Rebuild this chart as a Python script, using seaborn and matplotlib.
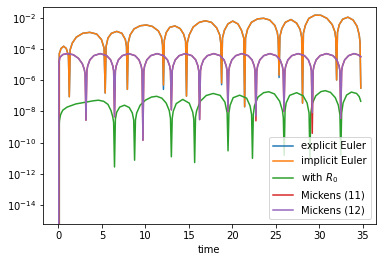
import numpy as np
import pandas as pd
import matplotlib
matplotlib.use('Agg')
import matplotlib.pyplot as plt
import seaborn as sns

NEG = -np.inf  # error is exactly zero at t = 0

# --- Euler schemes (values are log10 of the error)
t_euler = [
    0.0, 0.1, 0.3, 0.6, 0.9, 1.15, 1.25,
    1.35, 1.6, 2.05, 2.8, 3.6, 4.4, 4.95, 5.25, 5.38,
    5.48, 5.7, 6.1, 6.7, 7.3, 7.7, 7.83, 7.93,
    8.03, 8.25, 8.7, 9.4, 10.1, 10.8, 11.5, 11.85, 11.98, 12.08,
    12.18, 12.4, 12.8, 13.4, 14.0, 14.4, 14.63, 14.73,
    14.83, 15.05, 15.5, 16.2, 16.9, 17.6, 18.2, 18.55, 18.67, 18.77,
    18.87, 19.1, 19.5, 20.05, 20.65, 21.05, 21.32, 21.42,
    21.52, 21.75, 22.2, 22.9, 23.6, 24.3, 24.9, 25.18, 25.28, 25.38,
    25.48, 25.7, 26.1, 26.75, 27.4, 27.8, 27.98, 28.08,
    28.18, 28.4, 28.8, 29.5, 30.2, 30.9, 31.5, 31.8, 31.9, 32.0,
    32.1, 32.3, 32.7, 33.3, 33.9, 34.35, 34.6, 34.7, 34.78,
]
implicit_euler_log = [
    NEG, -4.3, -3.97, -3.83, -3.97, -4.43, -7.06,
    -4.05, -3.62, -3.25, -3.0, -2.94, -3.05, -3.4, -3.95, -6.82,
    -3.85, -3.3, -3.0, -2.88, -3.0, -3.4, -3.85, -6.59,
    -3.6, -3.1, -2.72, -2.52, -2.47, -2.56, -2.85, -3.25, -3.75, -6.31,
    -3.45, -2.95, -2.62, -2.53, -2.7, -3.05, -3.5, -7.02,
    -3.6, -3.1, -2.6, -2.3, -2.2, -2.3, -2.65, -3.1, -3.6, -6.18,
    -3.3, -2.8, -2.4, -2.22, -2.4, -2.8, -3.3, -7.7,
    -3.3, -2.75, -2.3, -2.08, -2.04, -2.15, -2.5, -2.95, -3.4, -5.68,
    -3.2, -2.7, -2.3, -2.12, -2.35, -2.75, -3.25, -7.47,
    -3.0, -2.5, -2.05, -1.84, -1.85, -2.05, -2.45, -2.9, -3.3, -5.99,
    -2.95, -2.45, -2.1, -1.97, -2.15, -2.55, -3.1, -3.6, -6.5,
]
explicit_euler_log = [
    NEG, -4.3, -3.97, -3.83, -3.97, -4.43, -7.06,
    -4.05, -3.62, -3.25, -3.0, -2.94, -3.05, -3.4, -3.95, -6.82,
    -3.85, -3.3, -3.0, -2.88, -3.0, -3.4, -3.85, -6.59,
    -3.6, -3.1, -2.72, -2.52, -2.47, -2.56, -2.85, -3.25, -3.75, -6.59,
    -3.45, -2.95, -2.62, -2.53, -2.7, -3.05, -3.5, -7.02,
    -3.6, -3.1, -2.6, -2.3, -2.2, -2.3, -2.65, -3.1, -3.6, -6.29,
    -3.3, -2.8, -2.4, -2.22, -2.4, -2.8, -3.3, -7.7,
    -3.3, -2.75, -2.3, -2.08, -2.04, -2.15, -2.5, -2.95, -3.4, -5.83,
    -3.2, -2.7, -2.3, -2.12, -2.35, -2.75, -3.25, -7.47,
    -3.0, -2.5, -2.05, -1.84, -1.85, -2.05, -2.45, -2.9, -3.3, -5.99,
    -2.95, -2.45, -2.1, -1.97, -2.15, -2.55, -3.1, -3.6, -6.5,
]

# --- scheme with R_0
t_r0 = [
    0.0, 0.05, 0.12, 0.25, 0.5, 1.0, 2.0, 3.0, 4.0, 4.6, 5.2, 5.7, 6.05, 6.25, 6.35, 6.45,
    6.55, 6.7, 7.05, 7.6, 8.15, 8.5, 8.66, 8.76,
    8.86, 9.0, 9.4, 10.0, 10.7, 11.3, 11.9, 12.4, 12.75, 12.89, 12.99,
    13.09, 13.2, 13.55, 14.3, 15.05, 15.45, 15.57, 15.67,
    15.77, 15.9, 16.3, 17.0, 17.8, 18.6, 19.15, 19.41, 19.51,
    19.61, 19.75, 20.1, 20.85, 21.65, 22.05, 22.22, 22.32,
    22.42, 22.55, 22.95, 23.6, 24.2, 24.85, 25.45, 25.77, 25.87, 25.97,
    26.07, 26.2, 26.6, 27.4, 28.15, 28.6, 28.83, 28.93,
    29.03, 29.2, 29.6, 30.2, 30.7, 31.3, 31.85, 32.2, 32.38, 32.48,
    32.58, 32.75, 33.15, 33.7, 34.3, 34.6, 34.78,
]
with_r0_log = [
    NEG, -9.2, -8.56, -8.2, -7.92, -7.72, -7.52, -7.42, -7.32, -7.28, -7.35, -7.55, -7.95, -8.35, -8.7, -11.55,
    -8.5, -8.05, -7.72, -7.6, -7.75, -8.1, -8.55, -11.12,
    -8.55, -8.1, -7.6, -7.28, -7.08, -7.03, -7.15, -7.47, -7.95, -8.45, -10.9,
    -8.45, -8.0, -7.5, -7.23, -7.47, -8.05, -8.5, -11.27,
    -8.35, -7.95, -7.36, -6.98, -6.85, -6.97, -7.4, -8.1, -10.52,
    -8.1, -7.6, -7.12, -6.96, -7.15, -7.65, -8.2, -11.0,
    -8.2, -7.65, -7.08, -6.8, -6.74, -6.88, -7.35, -7.95, -8.4, -10.8,
    -7.95, -7.45, -6.97, -6.8, -7.0, -7.45, -8.1, -11.0,
    -8.1, -7.5, -7.0, -6.73, -6.67, -6.78, -7.12, -7.6, -8.2, -10.8,
    -8.1, -7.45, -6.95, -6.76, -6.85, -7.05, -7.35,
]

# --- Mickens schemes
t_mickens = [
    0.0, 0.04, 0.15, 0.5, 1.05, 1.7, 2.3, 2.75, 2.97, 3.07, 3.17,
    3.27, 3.37, 3.62, 4.07, 4.81, 5.55, 6.0, 6.25, 6.35, 6.45,
    6.55, 6.65, 6.9, 7.35, 8.08, 8.82, 9.27, 9.52, 9.62, 9.72,
    9.82, 9.92, 10.17, 10.62, 11.35, 12.09, 12.54, 12.79, 12.89, 12.99,
    13.09, 13.19, 13.44, 13.89, 14.6, 15.34, 15.79, 16.04, 16.14, 16.24,
    16.34, 16.44, 16.69, 17.14, 17.87, 18.6, 19.05, 19.3, 19.4, 19.5,
    19.6, 19.7, 19.95, 20.4, 21.11, 21.82, 22.27, 22.52, 22.62, 22.72,
    22.82, 22.92, 23.17, 23.62, 24.33, 25.05, 25.5, 25.75, 25.85, 25.95,
    26.05, 26.15, 26.4, 26.85, 27.57, 28.3, 28.75, 29.0, 29.1, 29.2,
    29.3, 29.4, 29.65, 30.1, 30.84, 31.58, 32.03, 32.28, 32.38, 32.48,
    32.58, 32.68, 32.93, 33.38, 34.0, 34.5, 34.78,
]
mickens12_log = [
    NEG, -5.0, -4.55, -4.36, -4.3, -4.37, -4.6, -4.95, -5.3, -5.6, -8.56,
    -5.4, -5.08, -4.7, -4.43, -4.3, -4.43, -4.7, -5.08, -5.4, -8.34,
    -5.4, -5.08, -4.7, -4.43, -4.3, -4.43, -4.7, -5.08, -5.4, -9.84,
    -5.4, -5.08, -4.7, -4.43, -4.3, -4.43, -4.7, -5.08, -5.4, -7.9,
    -5.4, -5.08, -4.7, -4.43, -4.3, -4.43, -4.7, -5.08, -5.4, -8.52,
    -5.4, -5.08, -4.7, -4.43, -4.3, -4.43, -4.7, -5.08, -5.4, -8.0,
    -5.4, -5.08, -4.7, -4.43, -4.3, -4.43, -4.7, -5.08, -5.4, -8.3,
    -5.4, -5.08, -4.7, -4.43, -4.3, -4.43, -4.7, -5.08, -5.4, -8.0,
    -5.4, -5.08, -4.7, -4.43, -4.3, -4.43, -4.7, -5.08, -5.4, -8.07,
    -5.4, -5.08, -4.7, -4.43, -4.3, -4.43, -4.7, -5.08, -5.4, -8.44,
    -5.4, -5.08, -4.7, -4.43, -4.3, -4.38, -4.5,
]
mickens11_log = [
    NEG, -5.0, -4.55, -4.36, -4.3, -4.37, -4.6, -4.95, -5.3, -5.6, -8.56,
    -5.4, -5.08, -4.7, -4.43, -4.3, -4.43, -4.7, -5.08, -5.4, -8.34,
    -5.4, -5.08, -4.7, -4.43, -4.3, -4.43, -4.7, -5.08, -5.4, -9.84,
    -5.4, -5.08, -4.7, -4.43, -4.3, -4.43, -4.7, -5.08, -5.4, -7.9,
    -5.4, -5.08, -4.7, -4.43, -4.3, -4.43, -4.7, -5.08, -5.4, -8.52,
    -5.4, -5.08, -4.7, -4.43, -4.3, -4.43, -4.7, -5.08, -5.4, -8.0,
    -5.4, -5.08, -4.7, -4.43, -4.3, -4.43, -4.7, -5.08, -5.4, -8.6,
    -5.4, -5.08, -4.7, -4.43, -4.3, -4.43, -4.7, -5.08, -5.4, -8.0,
    -5.4, -5.08, -4.7, -4.43, -4.3, -4.43, -4.7, -5.08, -5.4, -9.4,
    -5.4, -5.08, -4.7, -4.43, -4.3, -4.43, -4.7, -5.08, -5.4, -8.44,
    -5.4, -5.08, -4.7, -4.43, -4.3, -4.38, -4.5,
]

labels = ['explicit Euler', 'implicit Euler', 'with $R_0$', 'Mickens (11)', 'Mickens (12)']
series = [
    (t_euler, explicit_euler_log),
    (t_euler, implicit_euler_log),
    (t_r0, with_r0_log),
    (t_mickens, mickens11_log),
    (t_mickens, mickens12_log),
]

frames = []
for name, (t, lg) in zip(labels, series):
    frames.append(pd.DataFrame({'time': t,
                                'error': 10.0 ** np.array(lg, dtype=float),
                                'method': name}))
df = pd.concat(frames, ignore_index=True)

fig = plt.figure(figsize=(385 / 72, 262 / 72), dpi=72)
ax = fig.add_axes([0.1125, 0.145, 0.8634, 0.8294])
sns.lineplot(data=df, x='time', y='error', hue='method', hue_order=labels,
             palette=['C0', 'C1', 'C2', 'C3', 'C4'], estimator=None, ax=ax)
ax.set_yscale('log')
ax.set_xlim(-1.74, 36.5)
ax.set_ylim(10 ** -15.2, 10 ** -1.3)
ax.set_ylabel('')
ax.set_xlabel('time')
sns.move_legend(ax, 'lower right', title=None)

fig.savefig('out.png', dpi=72)
